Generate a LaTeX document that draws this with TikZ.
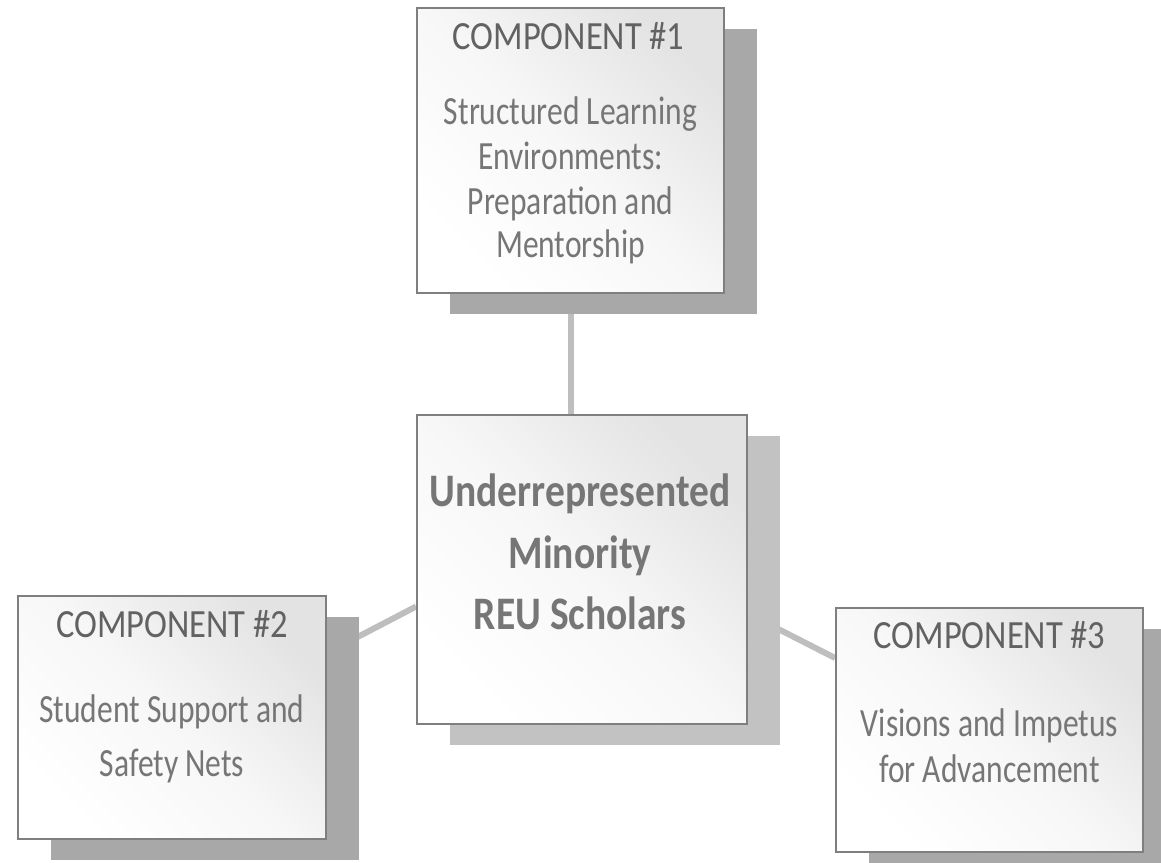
\documentclass[tikz,border=0pt]{standalone}
\usepackage{fontspec}
\setmainfont{Carlito}
\usetikzlibrary{calc,backgrounds,shadows}
\definecolor{shadowA}{HTML}{A8A8A8}
\definecolor{shadowB}{HTML}{C2C2C2}
\definecolor{edgegray}{HTML}{7F7F7F}
\definecolor{linkgray}{HTML}{BEBEBE}
\definecolor{titlegray}{HTML}{626262}
\definecolor{bodygray}{HTML}{767676}
\definecolor{fadegray}{HTML}{E3E3E3}
\definecolor{midgray}{HTML}{F7F7F7}
\newcommand\vst[1]{\scalebox{1}[1.27]{#1}}
\newcommand\vtt[1]{\scalebox{1}[1.16]{#1}}
\newcommand\vsc[1]{\scalebox{1}[1.18]{#1}}
\begin{document}
\begin{tikzpicture}[x=1pt,y=-1pt,
  card/.style={draw=edgegray, line width=1.8pt, top color=fadegray, bottom color=white,
    middle color=midgray, shading angle=-45, inner sep=0pt},
  darkshadow/.style={general shadow={fill=shadowA, shadow xshift=33pt, shadow yshift=-21pt}},
  lightshadow/.style={general shadow={fill=shadowB, shadow xshift=33pt, shadow yshift=-21pt}},
  titletext/.style={anchor=base, inner sep=0pt, text=titlegray, font=\fontsize{34.5}{40}\selectfont},
  bodytext/.style={anchor=base, inner sep=0pt, text=bodygray, font=\fontsize{31.5}{38}\selectfont},
  centertext/.style={anchor=base, inner sep=0pt, text=bodygray, font=\fontsize{39.5}{46}\selectfont\bfseries},
  link/.style={draw=linkgray, line width=6pt}]
\useasboundingbox (0,0) rectangle (1161,862);

% boxes
\node[card, darkshadow, minimum width=307pt, minimum height=285pt] (b1) at (570.5,150.5) {};
\node[card, lightshadow, minimum width=330pt, minimum height=309pt] (c) at (582,569.5) {};
\node[card, darkshadow, minimum width=308pt, minimum height=243pt] (b2) at (172,717.5) {};
\node[card, darkshadow, minimum width=307pt, minimum height=244pt] (b3) at (989.5,730) {};

% connectors
\begin{scope}[on background layer]
\draw[link] (b1.south) -- (b1.south |- c.north);
\draw[link] ($(c.west)+(0,37)$) -- ($(b2.east)+(0,-64.5)$);
\draw[link] ($(c.east)+(0,44)$) -- ($(b3.west)+(0,-72)$);
\end{scope}

% texts of component 1
\node[titletext] (t1) at ($(b1.north)+(-2,42)$) {\vtt{COMPONENT \#1}};
\node[bodytext] (t1a) at ($(b1.north)+(0,117)$) {\vst{Structured Learning}};
\node[bodytext] (t1b) at ($(b1.north)+(0,162)$) {\vst{Environments:}};
\node[bodytext] (t1c) at ($(b1.north)+(0,207)$) {\vst{Preparation and}};
\node[bodytext] (t1d) at ($(b1.north)+(0,250)$) {\vst{Mentorship}};

% centre
\node[centertext] (ca) at ($(c.north)+(-2,92)$) {\vsc{Underrepresented}};
\node[centertext] (cb) at ($(c.north)+(-2,154)$) {\vsc{Minority}};
\node[centertext] (cc) at ($(c.north)+(-2,215)$) {\vsc{REU Scholars}};

% texts of component 2
\node[titletext] (t2) at ($(b2.north)+(0,42)$) {\vtt{COMPONENT \#2}};
\node[bodytext] (t2a) at ($(b2.north)+(0,127)$) {\vst{Student Support and}};
\node[bodytext] (t2b) at ($(b2.north)+(0,181)$) {\vst{Safety Nets}};

% texts of component 3
\node[titletext] (t3) at ($(b3.north)+(0,41)$) {\vtt{COMPONENT \#3}};
\node[bodytext] (t3a) at ($(b3.north)+(0,129)$) {\vst{Visions and Impetus}};
\node[bodytext] (t3b) at ($(b3.north)+(0,175)$) {\vst{for Advancement}};
\end{tikzpicture}
\end{document}
